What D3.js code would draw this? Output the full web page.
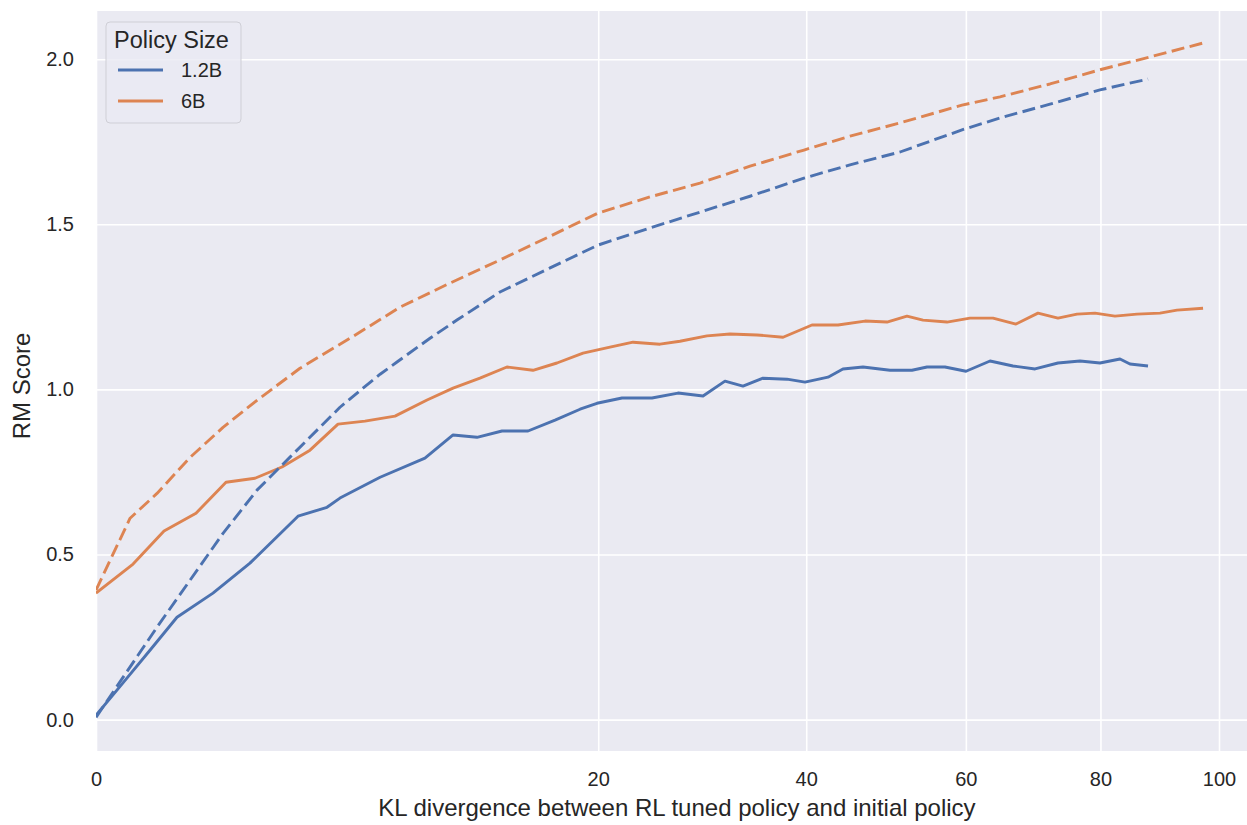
<!DOCTYPE html>
<html>
<head>
<meta charset="utf-8">
<script src="https://cdn.jsdelivr.net/npm/d3@7"></script>
<style>
  html, body { margin: 0; padding: 0; background: #ffffff; }
  svg text { font-family: "Liberation Sans", Arial, sans-serif; fill: #262626; }
</style>
</head>
<body>
<svg id="chart" width="1247" height="825"></svg>
<script>
// KL divergence (x) and RM score (y) for each policy size
const kl12Measured = [0, 0.067, 0.231, 0.520, 1.085, 1.880, 3.236, 4.231, 4.72, 6.40, 8.58, 10.11, 11.51, 13.07, 14.80, 16.71, 18.58, 19.90, 21.94, 24.51, 26.86, 29.22, 31.37, 33.19, 35.28, 37.86, 39.86, 42.49, 44.24, 46.65, 49.99, 52.80, 54.76, 57.15, 60.02, 63.38, 66.68, 69.92, 73.38, 76.78, 79.93, 83.15, 84.77, 87.76];
const score12Measured = [0.013, 0.119, 0.210, 0.310, 0.383, 0.474, 0.616, 0.643, 0.671, 0.734, 0.792, 0.862, 0.855, 0.874, 0.874, 0.907, 0.940, 0.958, 0.974, 0.974, 0.989, 0.980, 1.025, 1.010, 1.034, 1.031, 1.022, 1.037, 1.062, 1.068, 1.058, 1.058, 1.068, 1.068, 1.055, 1.086, 1.071, 1.062, 1.080, 1.086, 1.080, 1.092, 1.077, 1.071];

const kl6Measured = [0, 0.109, 0.367, 0.793, 1.340, 2.005, 2.743, 3.632, 4.644, 5.737, 7.09, 8.69, 10.11, 11.69, 13.39, 15.14, 16.85, 18.81, 20.95, 22.87, 25.22, 27.04, 29.60, 31.87, 34.65, 37.43, 40.65, 43.66, 46.89, 49.61, 52.15, 54.23, 57.42, 60.57, 63.80, 67.11, 70.36, 73.38, 76.31, 79.13, 82.33, 85.93, 89.77, 92.66, 97.18];
const score6Measured = [0.383, 0.471, 0.571, 0.625, 0.719, 0.731, 0.765, 0.816, 0.895, 0.904, 0.919, 0.968, 1.004, 1.034, 1.068, 1.058, 1.080, 1.110, 1.128, 1.143, 1.137, 1.146, 1.162, 1.168, 1.165, 1.158, 1.195, 1.195, 1.207, 1.204, 1.222, 1.210, 1.204, 1.216, 1.216, 1.198, 1.231, 1.216, 1.228, 1.231, 1.222, 1.228, 1.231, 1.240, 1.246];

const kl12Fit = [0, 0.295, 0.701, 1.279, 2.055, 2.985, 4.720, 5.653, 6.40, 7.185, 8.846, 10.33, 12.94, 16.35, 19.98, 24.34, 28.93, 33.92, 39.75, 45.08, 51.26, 59.47, 64.80, 72.17, 79.93, 87.76];
const score12Fit = [0.007, 0.280, 0.422, 0.564, 0.695, 0.795, 0.946, 1.004, 1.046, 1.083, 1.155, 1.210, 1.295, 1.368, 1.437, 1.489, 1.537, 1.585, 1.640, 1.680, 1.719, 1.786, 1.822, 1.864, 1.907, 1.940];

const kl6Fit = [0, 0.092, 0.295, 0.701, 1.279, 2.055, 3.300, 5.116, 7.328, 9.937, 12.94, 16.35, 19.98, 24.34, 28.93, 33.92, 39.75, 45.08, 51.26, 59.47, 64.80, 72.17, 79.93, 88.09, 97.18];
const score6Fit = [0.392, 0.610, 0.685, 0.794, 0.885, 0.967, 1.064, 1.155, 1.249, 1.322, 1.392, 1.464, 1.534, 1.583, 1.625, 1.676, 1.725, 1.767, 1.807, 1.861, 1.886, 1.925, 1.968, 2.007, 2.049];

const xTicks = [0, 20, 40, 60, 80, 100];
const yTicks = [0.0, 0.5, 1.0, 1.5, 2.0];
const sizeLabels = ["1.2B", "6B"];
const sizeColors = ["#4c72b0", "#dd8452"];

const series = [
  { kl: kl12Measured, score: score12Measured, color: sizeColors[0], dashed: false },
  { kl: kl6Measured,  score: score6Measured,  color: sizeColors[1], dashed: false },
  { kl: kl12Fit,      score: score12Fit,      color: sizeColors[0], dashed: true },
  { kl: kl6Fit,       score: score6Fit,       color: sizeColors[1], dashed: true }
];

const svg = d3.select("#chart");
const plot = { left: 96, right: 1247, top: 11, bottom: 751 };

const x = d3.scaleSqrt().domain([0, 105.05]).range([plot.left, plot.right]);
const y = d3.scaleLinear().domain([-0.095, 2.146]).range([plot.bottom, plot.top]);

// background panel
svg.append("rect")
  .attr("x", plot.left).attr("y", plot.top)
  .attr("width", plot.right - plot.left).attr("height", plot.bottom - plot.top)
  .attr("fill", "#eaeaf2");

svg.append("defs").append("clipPath").attr("id", "plot-clip")
  .append("rect")
  .attr("x", plot.left).attr("y", plot.top)
  .attr("width", plot.right - plot.left).attr("height", plot.bottom - plot.top);

// grid lines and tick labels
const xAxis = d3.axisBottom(x).tickValues(xTicks).tickFormat(d3.format("d"))
  .tickSize(-(plot.bottom - plot.top)).tickPadding(20.5);
const gx = svg.append("g").attr("transform", `translate(0,${plot.bottom})`).call(xAxis);
gx.select(".domain").remove();
gx.selectAll(".tick line").attr("stroke", "#ffffff").attr("stroke-width", 1.6);
gx.selectAll(".tick text").attr("font-size", 20).attr("fill", "#262626");

const yAxis = d3.axisLeft(y).tickValues(yTicks).tickFormat(d3.format(".1f"))
  .tickSize(-(plot.right - plot.left)).tickPadding(22);
const gy = svg.append("g").attr("transform", `translate(${plot.left},0)`).call(yAxis);
gy.select(".domain").remove();
gy.selectAll(".tick line").attr("stroke", "#ffffff").attr("stroke-width", 1.6);
gy.selectAll(".tick text").attr("font-size", 20).attr("fill", "#262626");

// series lines
const lineGen = d3.line().x(d => x(d[0])).y(d => y(d[1]));
const lines = svg.append("g").attr("clip-path", "url(#plot-clip)");
series.forEach(s => {
  const pts = s.kl.map((k, i) => [k, s.score[i]]);
  lines.append("path")
    .datum(pts)
    .attr("d", lineGen)
    .attr("fill", "none")
    .attr("stroke", s.color)
    .attr("stroke-width", 2.9)
    .attr("stroke-linejoin", "round")
    .attr("stroke-dasharray", s.dashed ? "13,5.5" : null);
});

// axis titles
svg.append("text")
  .attr("x", 677).attr("y", 816)
  .attr("text-anchor", "middle").attr("font-size", 24)
  .text("KL divergence between RL tuned policy and initial policy");

svg.append("text")
  .attr("transform", `translate(30,${(plot.top + plot.bottom) / 2 + 5}) rotate(-90)`)
  .attr("text-anchor", "middle").attr("font-size", 24)
  .text("RM Score");

// legend
const legend = svg.append("g");
legend.append("rect")
  .attr("x", 106).attr("y", 22).attr("width", 135).attr("height", 101)
  .attr("rx", 4)
  .attr("fill", "#eaeaf2").attr("fill-opacity", 0.8)
  .attr("stroke", "#cfcfd6").attr("stroke-width", 1);
legend.append("text")
  .attr("x", 114).attr("y", 48).attr("font-size", 23.5)
  .text("Policy Size");
sizeLabels.forEach((lab, i) => {
  const ly = 70 + i * 31;
  legend.append("line")
    .attr("x1", 118).attr("x2", 163).attr("y1", ly).attr("y2", ly)
    .attr("stroke", sizeColors[i]).attr("stroke-width", 2.9);
  legend.append("text")
    .attr("x", 181).attr("y", ly + 7).attr("font-size", 20)
    .text(lab);
});
</script>
</body>
</html>
